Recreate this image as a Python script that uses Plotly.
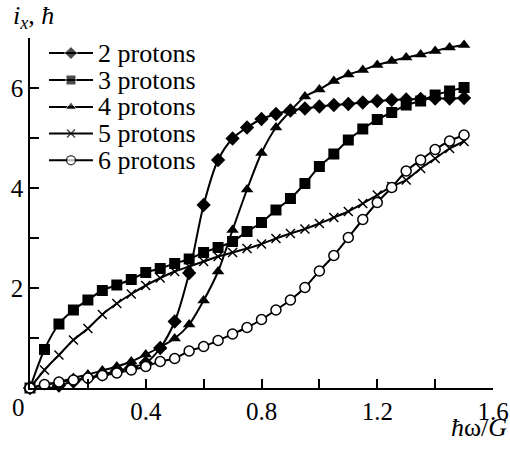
import plotly.graph_objects as go

# Rotational frequency grid (hbar*omega/G)
omega = [round(0.05 * k, 2) for k in range(31)]

# Aligned angular momentum i_x (in units of hbar) for each proton number
ix_2p = [0.0, -0.02, 0.05, 0.13, 0.20, 0.27, 0.34, 0.41, 0.50, 0.80, 1.33, 2.30, 3.66, 4.56, 4.99, 5.21,
         5.38, 5.48, 5.55, 5.59, 5.63, 5.66, 5.68, 5.71, 5.74, 5.76, 5.77, 5.78, 5.79, 5.79, 5.80]
ix_3p = [0.0, 0.77, 1.28, 1.56, 1.76, 1.95, 2.06, 2.17, 2.31, 2.39, 2.49, 2.58, 2.71, 2.81, 2.93, 3.13,
         3.31, 3.56, 3.79, 4.09, 4.43, 4.68, 4.96, 5.18, 5.37, 5.51, 5.66, 5.74, 5.86, 5.94, 6.01]
ix_4p = [0.0, 0.06, 0.12, 0.20, 0.27, 0.35, 0.43, 0.53, 0.67, 0.82, 0.99, 1.27, 1.75, 2.33, 3.16, 3.97,
         4.70, 5.21, 5.54, 5.83, 5.97, 6.14, 6.27, 6.36, 6.46, 6.54, 6.61, 6.67, 6.74, 6.81, 6.86]
ix_5p = [0.0, 0.36, 0.66, 0.96, 1.19, 1.47, 1.69, 1.88, 2.05, 2.20, 2.33, 2.43, 2.53, 2.63, 2.71, 2.79,
         2.88, 2.99, 3.09, 3.18, 3.29, 3.41, 3.53, 3.69, 3.86, 4.03, 4.16, 4.39, 4.59, 4.79, 4.93]
ix_6p = [0.0, 0.07, 0.12, 0.16, 0.20, 0.25, 0.30, 0.36, 0.43, 0.53, 0.59, 0.74, 0.83, 0.95, 1.08, 1.21,
         1.37, 1.56, 1.76, 2.01, 2.34, 2.65, 3.01, 3.37, 3.71, 4.01, 4.34, 4.56, 4.77, 4.94, 5.06]

series_names = ["2 protons", "3 protons", "4 protons", "5 protons", "6 protons"]
series_values = [ix_2p, ix_3p, ix_4p, ix_5p, ix_6p]

x_tickvals = [0.2, 0.4, 0.6, 0.8, 1.0, 1.2, 1.4, 1.6]
x_ticktext = ["", "0.4", "", "0.8", "", "1.2", "", "1.6"]
y_tickvals = [1, 2, 3, 4, 5, 6, 7]
y_ticktext = ["", "2", "", "4", "", "6", ""]

FONT = "Liberation Serif"
BLACK = "#000000"

marker_styles = [
    dict(symbol="diamond", size=11, color=BLACK),
    dict(symbol="square", size=11, color=BLACK),
    dict(symbol="triangle-up", size=11, color=BLACK),
    dict(symbol="x-thin", size=9, color=BLACK, line=dict(color=BLACK, width=1.5)),
    dict(symbol="circle", size=10, color="white", line=dict(color=BLACK, width=1.5)),
]

fig = go.Figure()

for name, vals, mk in zip(series_names, series_values, marker_styles):
    fig.add_trace(go.Scatter(
        x=omega, y=vals, name=name, mode="lines+markers",
        line=dict(color=BLACK, width=2, shape="spline", smoothing=0.8),
        marker=mk, cliponaxis=False, showlegend=False,
    ))

# Legend key: short line with a marker in its middle, drawn on an overlay axis spanning the plot area
key_x = [0.041, 0.0885, 0.136]
key_rows = [0.957, 0.880, 0.803, 0.727, 0.651]
for name, mk, ry in zip(series_names, marker_styles, key_rows):
    mk_key = dict(mk)
    mk_key["size"] = [0, mk["size"] - 1, 0]
    fig.add_trace(go.Scatter(
        x=key_x, y=[ry] * 3, mode="lines+markers", xaxis="x2", yaxis="y2",
        line=dict(color=BLACK, width=2), marker=mk_key,
        cliponaxis=False, showlegend=False, hoverinfo="skip",
    ))
    fig.add_annotation(
        text=name, xref="paper", yref="paper", x=0.1425, y=ry,
        xanchor="left", yanchor="middle", showarrow=False,
        font=dict(family=FONT, size=26, color=BLACK),
    )

axis_common = dict(
    showline=True, linecolor=BLACK, linewidth=1.5, mirror=False,
    ticks="inside", ticklen=9, tickwidth=1.5, tickcolor=BLACK,
    showgrid=False, zeroline=False, automargin=False,
    tickfont=dict(family=FONT, size=25, color=BLACK),
)

fig.update_layout(
    width=510, height=453,
    margin=dict(l=30, r=17, t=38, b=65, autoexpand=False),
    paper_bgcolor="white", plot_bgcolor="white",
    font=dict(family=FONT, size=25, color=BLACK),
    xaxis=dict(range=[0, 1.6], tickmode="array", tickvals=x_tickvals, ticktext=x_ticktext, **axis_common),
    yaxis=dict(range=[0, 7], tickmode="array", tickvals=y_tickvals, ticktext=y_ticktext, **axis_common),
    xaxis2=dict(overlaying="x", range=[0, 1], visible=False),
    yaxis2=dict(overlaying="y", range=[0, 1], visible=False),
)

# Origin label and axis titles
fig.add_annotation(text="0", xref="x", yref="paper", x=0, y=-0.056, xshift=-11.5,
                   xanchor="center", yanchor="middle", showarrow=False,
                   font=dict(family=FONT, size=25, color=BLACK))
fig.add_annotation(text="<i>i</i><sub><i>x</i></sub>, <i>ħ</i>", xref="paper", yref="paper",
                   x=-0.041, y=1.06, xanchor="left", yanchor="middle", showarrow=False,
                   font=dict(family=FONT, size=26, color=BLACK))
fig.add_annotation(text="<i>ħ</i>ω/<i>G</i>", xref="paper", yref="paper",
                   x=1.035, y=-0.114, xanchor="right", yanchor="middle", showarrow=False,
                   font=dict(family=FONT, size=26, color=BLACK))

fig.write_html("out.html")
